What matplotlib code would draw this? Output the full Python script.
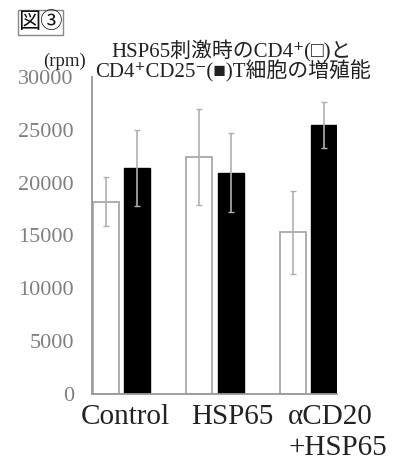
import matplotlib
matplotlib.use("Agg")
import matplotlib.pyplot as plt
import numpy as np
from matplotlib.patches import Rectangle
from matplotlib.transforms import blended_transform_factory

groups = ["Control", "HSP65", "αCD20\n+HSP65"]
cd4 = [18200, 22400, 15300]
cd4_err = [2350, 4550, 3950]
cd4cd25 = [21400, 20950, 25450]
cd4cd25_err = [3600, 3750, 2200]
yticks = [0, 5000, 10000, 15000, 20000, 25000, 30000]

fam = ["Liberation Serif", "Noto Sans CJK JP", "DejaVu Sans"]
plt.rcParams["font.family"] = fam

fig = plt.figure(figsize=(3.98, 4.63), dpi=100)
ax = fig.add_axes([0.231, 0.149, 0.616, 0.685])

x = np.arange(len(groups))
w = 0.28
off = 0.167
ekw = dict(ecolor="#b0b0b0", elinewidth=1.2, capsize=2.5, capthick=1.0)
ax.bar(x - off, cd4, w, color="white", edgecolor="#a8a8a8", linewidth=1.3,
       yerr=cd4_err, error_kw=ekw)
ax.bar(x + off, cd4cd25, w, color="black", edgecolor="black",
       yerr=cd4cd25_err, error_kw=ekw)

ax.set_ylim(0, 30000)
ax.set_xlim(-0.32, 2.31)
ax.set_yticks(yticks)
ax.set_xticks(x)
ax.set_xticklabels([])
ax.tick_params(axis="y", length=0, labelsize=16, labelcolor="#808080", pad=13)
ax.tick_params(axis="x", length=0)
for s in ["top", "right"]:
    ax.spines[s].set_visible(False)
for s in ["left", "bottom"]:
    ax.spines[s].set_color("#999999")
    ax.spines[s].set_linewidth(1.3)

# category labels sit a bit off the group centres, as in the original
trans = blended_transform_factory(ax.transData, ax.transAxes)
label_x = [0.04, 1.19, 1.785]
label_ha = ["center", "center", "left"]
for lx, ha, g in zip(label_x, label_ha, groups):
    ax.text(lx, -0.03, g, transform=trans, ha=ha, va="top", fontsize=21,
            color="#222222", linespacing=1.25)

fig.text(0.163, 0.868, "(rpm)", fontsize=13.5, ha="center", va="center",
         color="#222222")
fig.text(0.581, 0.889, "HSP65刺激時のCD4⁺(□)と", fontsize=15,
         ha="center", va="center", color="#222222")
fig.text(0.585, 0.846, "CD4⁺CD25⁻(■)T細胞の増殖能", fontsize=15,
         ha="center", va="center", color="#222222")
fig.text(0.101, 0.951, "図③", fontsize=16, ha="center", va="center",
         color="#111111")
fig.patches.append(Rectangle((0.045, 0.924), 0.113, 0.054,
                             transform=fig.transFigure, fill=False,
                             edgecolor="#888888", linewidth=1.0))

fig.savefig("out.png", dpi=100, facecolor="white")
